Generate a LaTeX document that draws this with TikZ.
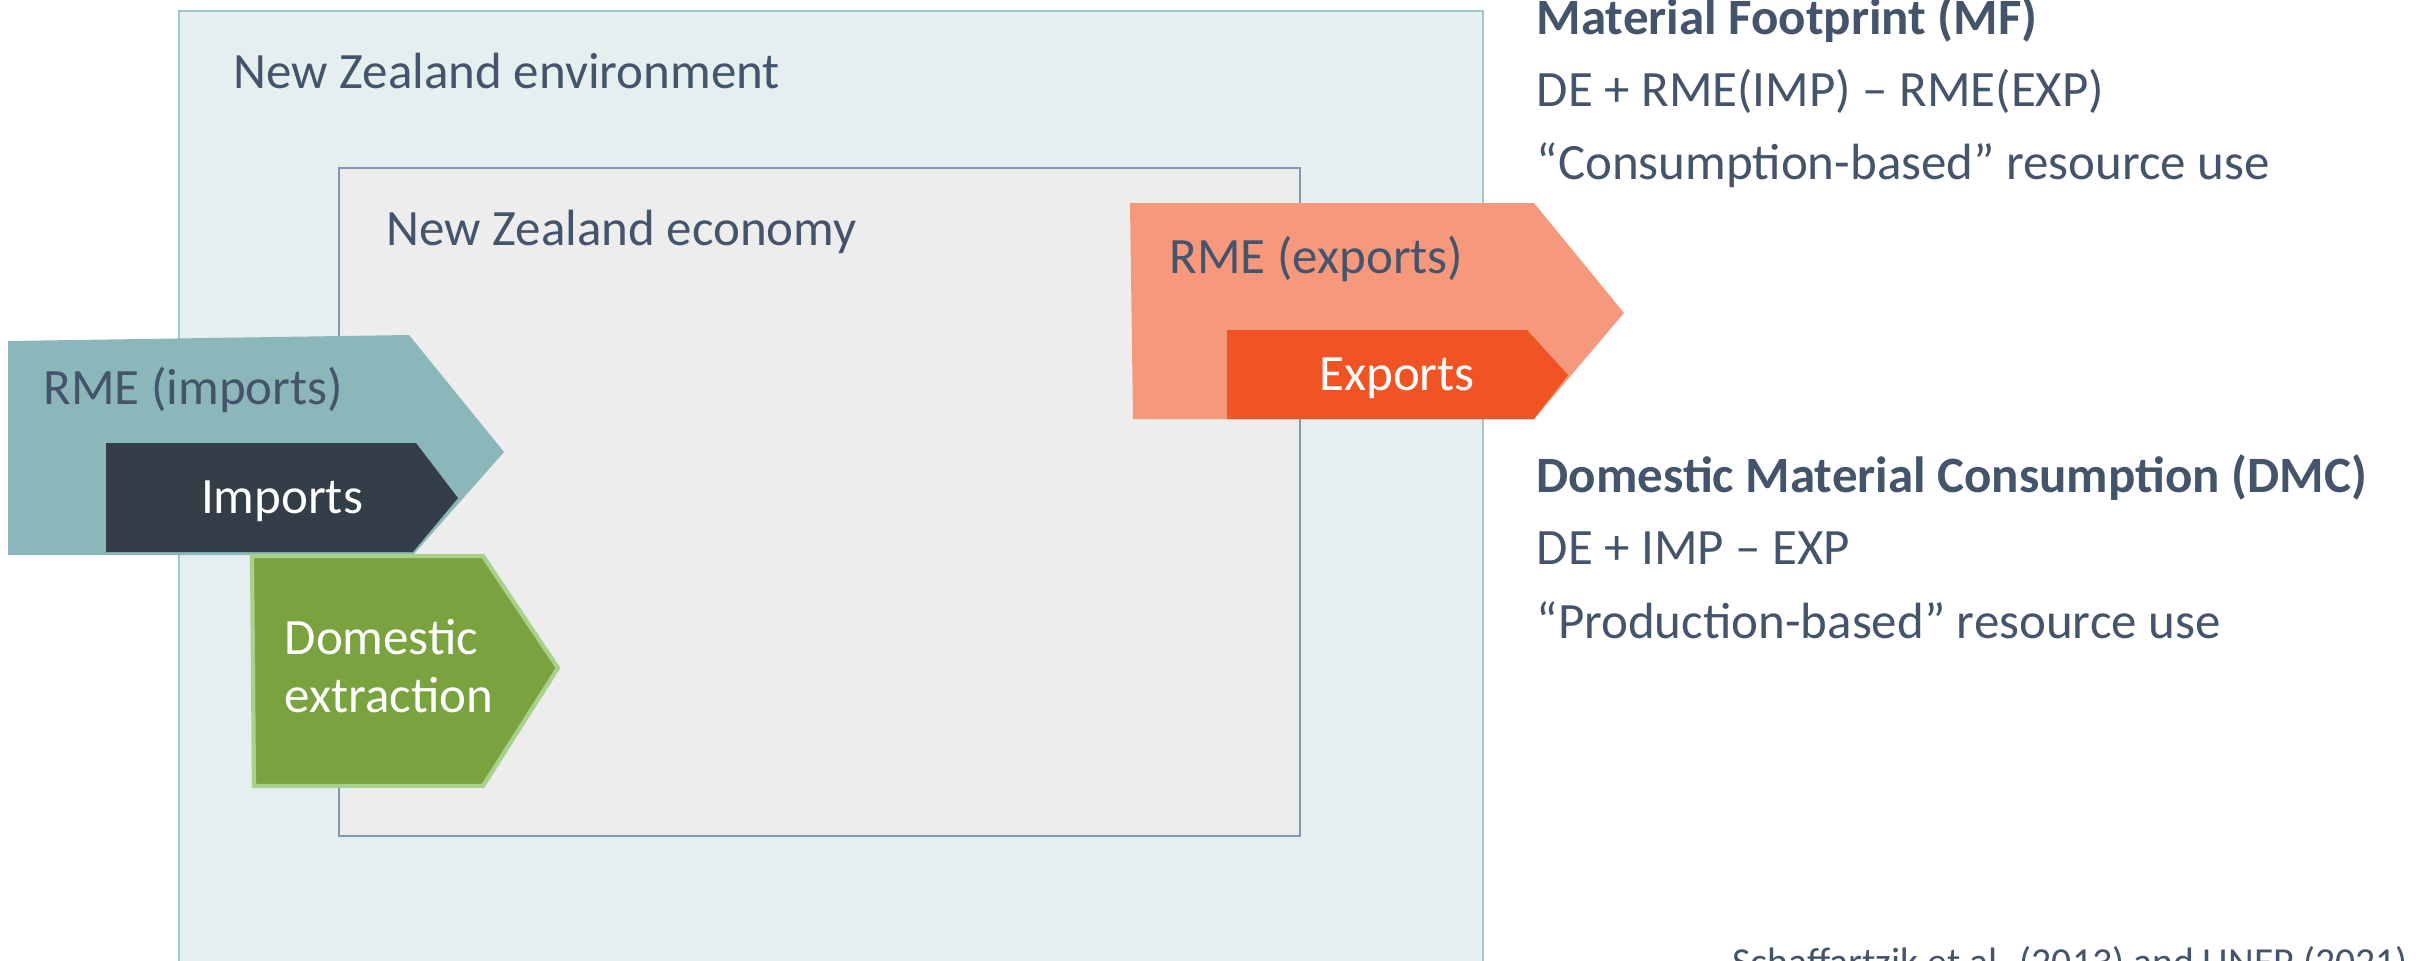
\documentclass[tikz,border=0pt]{standalone}
\usepackage{fontspec}
\setmainfont{Carlito}
\usetikzlibrary{positioning}
\definecolor{nzSlate}{RGB}{68, 84, 106}
\definecolor{nzEnvFill}{RGB}{230, 239, 240}
\definecolor{nzEnvLine}{RGB}{160, 200, 204}
\definecolor{nzEconFill}{RGB}{237, 237, 237}
\definecolor{nzEconLine}{RGB}{132, 151, 176}
\definecolor{nzRmeImp}{RGB}{139, 183, 186}
\definecolor{nzImp}{RGB}{52, 62, 72}
\definecolor{nzExtr}{RGB}{122, 163, 63}
\definecolor{nzExtrLine}{RGB}{169, 209, 142}
\definecolor{nzRmeExp}{RGB}{245, 152, 124}
\definecolor{nzExp}{RGB}{240, 83, 36}

\begin{document}
\begin{tikzpicture}[
  txt/.style={font=\fontsize{14.5}{17}\selectfont, text=nzSlate, inner sep=0pt},
  head/.style={txt, font=\fontsize{14.5}{17}\selectfont\bfseries},
  inflow/.style={txt, text=white}
]
\useasboundingbox (0,0) rectangle (24.18,9.6);
\clip (0,0) rectangle (24.18,9.6);

% environment and economy
\draw[draw=nzEnvLine, fill=nzEnvFill] (1.79,-0.5) rectangle (14.83,9.49);
\draw[draw=nzEconLine, fill=nzEconFill] (3.39,1.24) rectangle (13.0,7.92);
\node[txt, anchor=base west] (env) at (2.33,8.72) {New Zealand environment};
\node[txt, anchor=base west] (econ) at (3.86,7.15) {New Zealand economy};

% imports
\fill[nzRmeImp] (0.08,6.19) -- (4.09,6.25) -- (5.04,5.08) -- (4.13,4.05) -- (0.08,4.05) -- cycle;
\fill[nzImp] (1.06,5.17) -- (4.16,5.17) -- (4.58,4.62) -- (4.13,4.08) -- (1.06,4.08) -- cycle;
\node[txt, anchor=base west] (rmeimp) at (0.43,5.56) {RME (imports)};
\node[inflow, anchor=base] (imp) at (2.82,4.47) {Imports};

% domestic extraction
\filldraw[nzExtrLine, fill=nzExtr, line width=1.2pt] (2.52,4.04) -- (4.83,4.04) -- (5.58,2.92) -- (4.83,1.74) -- (2.54,1.74) -- cycle;
\node[inflow, anchor=base west] (de) at (2.84,3.06) {Domestic};
\node[inflow, anchor=base west] (de2) at (2.84,2.48) {extraction};

% exports
\fill[nzRmeExp] (11.30,7.57) -- (15.34,7.57) -- (16.24,6.47) -- (15.34,5.41) -- (11.33,5.41) -- cycle;
\fill[nzExp] (12.27,6.30) -- (15.27,6.30) -- (15.68,5.85) -- (15.34,5.41) -- (12.27,5.41) -- cycle;
\node[txt, anchor=base west] (rmeexp) at (11.69,6.87) {RME (exports)};
\node[inflow, anchor=base] (exp) at (13.97,5.70) {Exports};

% indicators
\node[head, anchor=base west] (mf) at (15.36,9.26) {Material Footprint (MF)};
\node[txt, anchor=base west] (mfeq) at (15.36,8.54) {DE + RME(IMP) – RME(EXP)};
\node[txt, anchor=base west] (mfnote) at (15.36,7.81) {“Consumption-based” resource use};
\node[head, anchor=base west] (dmc) at (15.36,4.68) {Domestic Material Consumption (DMC)};
\node[txt, anchor=base west] (dmceq) at (15.36,3.96) {DE + IMP – EXP};
\node[txt, anchor=base west] (dmcnote) at (15.36,3.22) {“Production-based” resource use};
\node[txt, anchor=base west, font=\fontsize{11.3}{13}\selectfont] (src) at (17.32,-0.15) {Schaffartzik et al. (2013) and UNEP (2021)};
\end{tikzpicture}
\end{document}
